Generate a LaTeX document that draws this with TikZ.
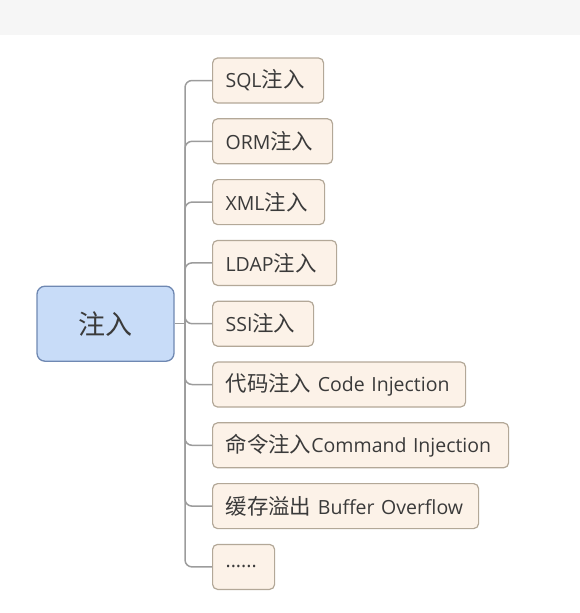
\documentclass[tikz,border=0pt]{standalone}
\usepackage{fontspec}
\setmainfont{Open Sans}
\newfontfamily\cjk[Scale=1.1]{Noto Sans CJK SC}
\newfontfamily\cjkroot{Noto Sans CJK SC}
\definecolor{bandgray}{HTML}{F6F6F6}
\definecolor{rootfill}{HTML}{C8DCF8}
\definecolor{rootdraw}{HTML}{6F88B2}
\definecolor{leaffill}{HTML}{FCF2E8}
\definecolor{leafdraw}{HTML}{B3A898}
\definecolor{linkgray}{HTML}{9C9C9C}
\definecolor{txt}{HTML}{3A3A3A}
\begin{document}
\begin{tikzpicture}[x=1pt,y=-1pt,
  rootbox/.style={draw=rootdraw,line width=1.3pt,fill=rootfill,rounded corners=8pt,
    minimum width=137pt,minimum height=75pt,inner sep=0pt,text=txt,
    font=\cjkroot\fontsize{27}{30}\selectfont},
  leaf/.style={draw=leafdraw,line width=1.2pt,fill=leaffill,rounded corners=5pt,
    minimum height=45pt,inner xsep=13pt,inner ysep=0pt,anchor=west,text=txt,
    align=left,text width=#1-26pt,
    font=\fontsize{19.5}{22}\selectfont},
  link/.style={draw=linkgray,line width=1.5pt},
  branch/.style={link,rounded corners=7pt}]
\useasboundingbox (0,0) rectangle (580,613);
\fill[bandgray] (0,0) rectangle (580,35);
\node[rootbox] (root) at (105.5,323.7) {注入};
\node[leaf=111pt] (n1) at (212,80.5) {SQL{\cjk 注入}};
\node[leaf=120pt] (n2) at (212,141.3) {ORM{\cjk 注入}};
\node[leaf=112pt] (n3) at (212,202.1) {XML{\cjk 注入}};
\node[leaf=124pt] (n4) at (212,262.9) {LDAP{\cjk 注入}};
\node[leaf=101pt] (n5) at (212,323.7) {SSI{\cjk 注入}};
\node[leaf=253pt] (n6) at (212,384.5) {{\cjk 代码注入} Code Injection};
\node[leaf=296pt] (n7) at (212,445.3) {{\cjk 命令注入}Command Injection};
\node[leaf=266pt] (n8) at (212,506.1) {{\cjk 缓存溢出} Buffer Overflow};
\node[leaf=62pt] (n9) at (212,566.9) {......};
\coordinate (j) at (185,323.7);
\draw[link] (root.east) -- (j);
\foreach \n in {n1,n2,n3,n4,n5,n6,n7,n8,n9}{
  \draw[branch] (j) |- (\n.west);
}
\end{tikzpicture}
\end{document}
